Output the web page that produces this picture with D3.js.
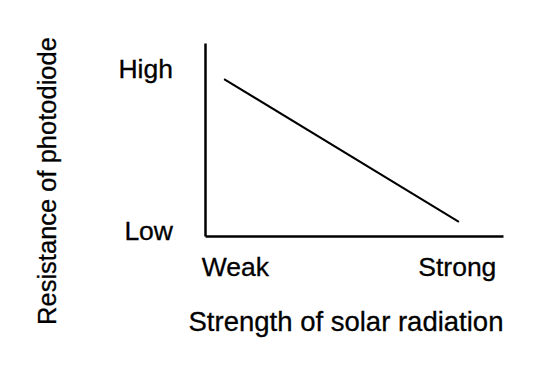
<!DOCTYPE html>
<html>
<head>
<meta charset="utf-8">
<script src="https://cdn.jsdelivr.net/npm/d3@7"></script>
<style>
  body { margin: 0; background: #fff; }
  text { font-family: "Liberation Sans", Arial, sans-serif; fill: #000; stroke: #000; stroke-width: 0.3px; }
</style>
</head>
<body>
<div class="chart-wrapper"></div>
<script>
// chart values
const xLabels = ['Weak', 'Strong'];
const xTickValues = [0.1, 0.845];
const yLabels = ['Low', 'High'];
const yTickValues = [0.027, 0.865];
const strength = [0.064, 0.852];
const resistance = [0.813, 0.073];

const width = 544, height = 372;

const x = d3.scaleLinear().domain([0, 1]).range([205, 503]);
const y = d3.scaleLinear().domain([0, 1]).range([236, 43]);

const svg = d3.select('.chart-wrapper')
    .append('svg')
    .attr('width', width)
    .attr('height', height);

// Y axis with High / Low labels
const yAxis = svg.append('g')
    .attr('transform', `translate(${x(0)},0)`)
    .call(d3.axisLeft(y)
        .tickValues(yTickValues)
        .tickFormat((d, i) => yLabels[i])
        .tickSize(0)
        .tickPadding(32));

// X axis with Weak / Strong labels
const xAxis = svg.append('g')
    .attr('transform', `translate(0,${y(0)})`)
    .call(d3.axisBottom(x)
        .tickValues(xTickValues)
        .tickFormat((d, i) => xLabels[i])
        .tickSize(0)
        .tickPadding(21));

[xAxis, yAxis].forEach(g => {
    g.select('.domain').attr('stroke', '#000').attr('stroke-width', 2.5);
    g.selectAll('text')
        .style('font-family', '"Liberation Sans", Arial, sans-serif')
        .style('font-size', '26.5px')
        .attr('fill', '#000');
});

// the line
svg.append('path')
    .datum(strength.map((s, i) => [s, resistance[i]]))
    .attr('fill', 'none')
    .attr('stroke', '#000')
    .attr('stroke-width', 2)
    .attr('d', d3.line().x(d => x(d[0])).y(d => y(d[1])));

// axis titles
svg.append('text')
    .attr('x', 346)
    .attr('y', 331)
    .attr('text-anchor', 'middle')
    .style('font-size', '27.5px')
    .text('Strength of solar radiation');

svg.append('text')
    .attr('transform', 'translate(56,181) rotate(-90)')
    .attr('text-anchor', 'middle')
    .style('font-size', '25.5px')
    .text('Resistance of photodiode');
</script>
</body>
</html>
